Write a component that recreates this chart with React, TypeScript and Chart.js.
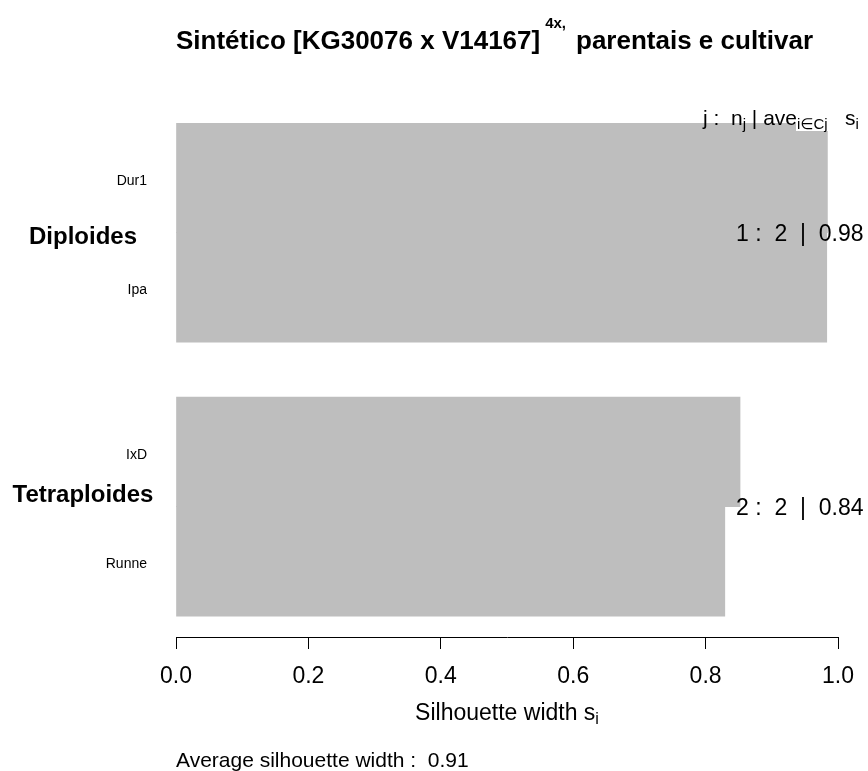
import React, { useEffect, useRef } from "react";
import { Chart, registerables } from "chart.js";

Chart.register(...registerables);

// ---- data ----
const rowNames = ["Dur1", "Ipa", "IxD", "Runne"];
const silWidths = [0.984, 0.983, 0.852, 0.829];
const rowCluster = [1, 1, 2, 2];
const clusterIds = [1, 2];
const clusterNames = ["Diploides", "Tetraploides"];
const xTicks = [0, 0.2, 0.4, 0.6, 0.8, 1.0];
const titleMain = "Sintético [KG30076 x V14167]";
const titleSup = "4x,";
const titleRest = "parentais e cultivar";
const xTitle = "Silhouette width s";
const xTitleSub = "i";
const avgLabel = "Average silhouette width :  ";

// ---- derived ----
const GAP = 0.5;
const rowPos = rowNames.map((_, i) => i + 0.5 + GAP * (rowCluster[i] - 1));
const clusterN = clusterIds.map((c) => rowCluster.filter((k) => k === c).length);
const clusterAve = clusterIds.map((c) => {
  const v = silWidths.filter((_, i) => rowCluster[i] === c);
  return v.reduce((a, b) => a + b, 0) / v.length;
});
const clusterCenter = clusterIds.map((c) => {
  const p = rowPos.filter((_, i) => rowCluster[i] === c);
  return p.reduce((a, b) => a + b, 0) / p.length;
});
const overallAve = silWidths.reduce((a, b) => a + b, 0) / silWidths.length;

const F = '"Liberation Sans", Arial, Helvetica, sans-serif';
const SYM = '"Liberation Sans", "DejaVu Sans", sans-serif';

const textPlugin = {
  id: "silText",
  afterDraw(chart: any) {
    const { ctx, scales } = chart;
    const x = scales.x;
    const y = scales.y;
    ctx.save();
    ctx.fillStyle = "#000";
    ctx.textAlign = "left";
    ctx.textBaseline = "alphabetic";

    // title
    ctx.font = `bold 26px ${F}`;
    let tx = x.left;
    ctx.fillText(titleMain, tx, 49);
    tx += ctx.measureText(titleMain).width + 5;
    ctx.font = `bold 15px ${F}`;
    ctx.fillText(titleSup, tx, 28);
    tx += ctx.measureText(titleSup).width + 10;
    ctx.font = `bold 26px ${F}`;
    ctx.fillText(titleRest, tx, 49);

    // header  j : n_j | ave_{i in Cj} s_i
    const hb = y.top + 2;
    let hx = 703;
    const main = (s: string) => {
      ctx.font = `21px ${F}`;
      ctx.fillText(s, hx, hb);
      hx += ctx.measureText(s).width;
    };
    const sub = (s: string, bg = false) => {
      ctx.font = `15px ${SYM}`;
      const w = ctx.measureText(s).width;
      if (bg) {
        ctx.fillStyle = "#fff";
        ctx.fillRect(hx - 1, hb - 14, w + 2, 20);
        ctx.fillStyle = "#000";
      }
      ctx.fillText(s, hx, hb + 4);
      hx += w;
    };
    main("j :  n");
    sub("j");
    main(" | ave");
    sub("i\u2208Cj", true);
    main("   s");
    sub("i");

    // cluster stats
    ctx.font = `23px ${F}`;
    ctx.textBaseline = "middle";
    clusterIds.forEach((c, k) => {
      const s = `${c} :  ${clusterN[k]}  |  ${clusterAve[k].toFixed(2)}`;
      const w = ctx.measureText(s).width;
      const left = x.getPixelForValue(1) - 0.8 * w;
      ctx.fillText(s, left, y.getPixelForValue(clusterCenter[k]) + 2);
    });

    // cluster names
    ctx.font = `bold 24px ${F}`;
    ctx.textAlign = "center";
    const nameOffsets = [5, -11];
    clusterNames.forEach((n, k) => {
      ctx.fillText(n, 83, y.getPixelForValue(clusterCenter[k]) + nameOffsets[k]);
    });

    // x title
    ctx.textBaseline = "alphabetic";
    ctx.textAlign = "left";
    ctx.font = `23px ${F}`;
    const w1 = ctx.measureText(xTitle).width;
    ctx.font = `16px ${F}`;
    const w2 = ctx.measureText(xTitleSub).width;
    const cx = (x.left + x.right) / 2;
    const sx = cx - (w1 + w2) / 2;
    ctx.font = `23px ${F}`;
    ctx.fillText(xTitle, sx, 720);
    ctx.font = `16px ${F}`;
    ctx.fillText(xTitleSub, sx + w1, 724);

    // average
    ctx.font = `21px ${F}`;
    ctx.fillText(avgLabel + overallAve.toFixed(2), x.left, 767);

    ctx.restore();
  },
};

export default function App() {
  const ref = useRef<HTMLCanvasElement | null>(null);
  useEffect(() => {
    document.body.style.margin = "0";
    const canvas = ref.current;
    if (!canvas) return;
    const chart = new Chart(canvas, {
      type: "bar",
      data: {
        datasets: [
          {
            data: rowNames.map((_, i) => ({ x: silWidths[i], y: rowPos[i] })),
            backgroundColor: "#bebebe",
            borderWidth: 0,
            barPercentage: 1,
            categoryPercentage: 1,
          },
        ],
      },
      options: {
        indexAxis: "y",
        responsive: false,
        animation: false,
        events: [],
        layout: { padding: { left: 0, right: 28, top: 123, bottom: 0 } },
        plugins: {
          legend: { display: false },
          title: { display: false },
          tooltip: { enabled: false },
        },
        scales: {
          x: {
            type: "linear",
            position: "bottom",
            min: 0,
            max: 1,
            offset: false,
            afterBuildTicks: (s: any) => {
              s.ticks = xTicks.map((v) => ({ value: v }));
            },
            ticks: {
              callback: (v: any) => Number(v).toFixed(1),
              font: { size: 23, family: F },
              color: "#000",
              padding: 14,
              maxRotation: 0,
              autoSkip: false,
            },
            grid: {
              display: true,
              drawOnChartArea: false,
              drawTicks: true,
              tickLength: 12,
              color: "#000",
              lineWidth: 1,
              offset: false,
            },
            border: { display: true, color: "#000", width: 1 },
            afterFit: (s: any) => {
              s.height = 134;
            },
          },
          y: {
            type: "linear",
            position: "left",
            min: 0,
            max: 4.69,
            reverse: true,
            offset: false,
            afterBuildTicks: (s: any) => {
              s.ticks = rowPos.map((v) => ({ value: v }));
            },
            ticks: {
              callback: (_v: any, i: number) => rowNames[i],
              font: { size: 14, family: F },
              color: "#000",
              padding: 29,
              autoSkip: false,
              labelOffset: 3,
            },
            grid: { display: false, drawTicks: false, offset: false },
            border: { display: false },
            afterFit: (s: any) => {
              s.width = 176;
            },
          },
        },
      } as any,
      plugins: [textPlugin],
    });
    return () => chart.destroy();
  }, []);
  return (
    <div style={{ width: 868, height: 771, background: "#fff" }}>
      <canvas ref={ref} width={868} height={771} style={{ display: "block" }} />
    </div>
  );
}
